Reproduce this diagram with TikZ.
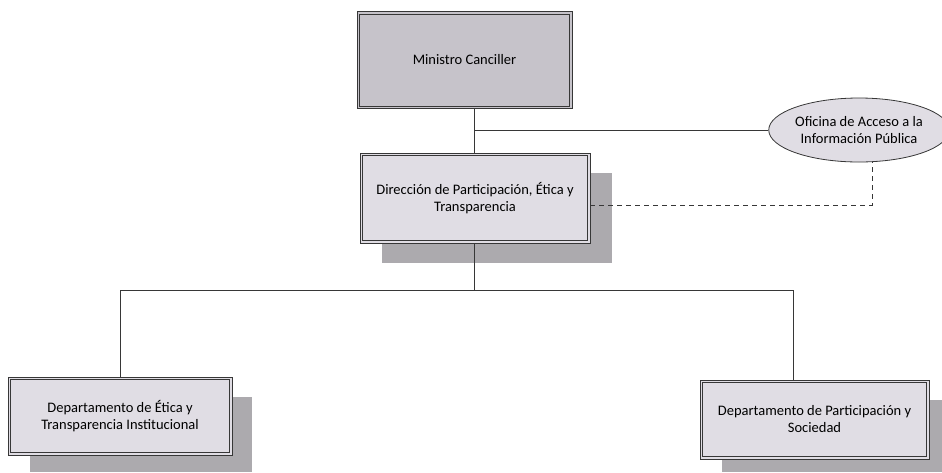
\documentclass[tikz,border=0pt]{standalone}
\usepackage{fontspec}
\setmainfont{Carlito}
\usetikzlibrary{shapes.geometric}
\definecolor{boxfill}{RGB}{224,221,228}
\definecolor{topfill}{RGB}{198,195,202}
\definecolor{shadowc}{RGB}{172,170,174}
\definecolor{linec}{RGB}{55,55,55}
\tikzset{
  orgbox/.style={draw=linec, line width=0.7pt, fill=boxfill, align=center,
    font=\fontsize{14.5}{17}\selectfont, inner sep=0pt},
  innerframe/.style={draw=linec, line width=0.5pt},
  conn/.style={draw=linec, line width=0.8pt}
}
\newcommand{\frameinside}[1]{%
  \draw[innerframe] ([shift={(3pt,-3pt)}]#1.north west) rectangle ([shift={(-3pt,3pt)}]#1.south east);}
\begin{document}
\begin{tikzpicture}[x=1pt,y=-1pt]
\useasboundingbox (0,0) rectangle (942,472);
% shadows
\fill[shadowc] (382,173) rectangle (612,263);
\fill[shadowc] (30,397) rectangle (252,472);
\fill[shadowc] (722,400) rectangle (942,472);
% nodes
\node[orgbox, fill=topfill, minimum width=215pt, minimum height=97pt] (min) at (464.5,60) {Ministro Canciller};
\node[orgbox, minimum width=230pt, minimum height=90pt] (dir) at (475,198) {Dirección de Participación, Ética y\\Transparencia};
\node[ellipse, draw=linec, line width=0.8pt, fill=boxfill, minimum width=166pt, minimum height=64pt, inner sep=0pt, align=center, font=\fontsize{14.5}{17}\selectfont] (ofi) at (859,130) {Oficina de Acceso a la\\Información Pública};
\node[orgbox, minimum width=224pt, minimum height=78pt] (det) at (120,416) {Departamento de Ética y\\Transparencia Institucional};
\node[orgbox, minimum width=229pt, minimum height=79pt] (dps) at (814.5,419.5) {Departamento de Participación y\\Sociedad};
\frameinside{min}
\frameinside{dir}
\frameinside{det}
\frameinside{dps}
% connectors
\coordinate (j1) at (474,130);
\coordinate (j2) at (474,290);
\coordinate (jl) at (120,290);
\coordinate (jr) at (793,290);
\draw[conn] (min.south -| j1) -- (dir.north -| j1);
\draw[conn] (j1) -- (ofi.west);
\draw[conn] (dir.south -| j2) -- (j2);
\draw[conn] (jl) -- (jr);
\draw[conn] (jl) -- (det.north -| jl);
\draw[conn] (jr) -- (dps.north -| jr);
\coordinate (dk) at (872,205);
\draw[conn, dashed, dash pattern=on 5pt off 4pt] (dir.east |- dk) -- (dk) -- (ofi.south -| dk);
\end{tikzpicture}
\end{document}
